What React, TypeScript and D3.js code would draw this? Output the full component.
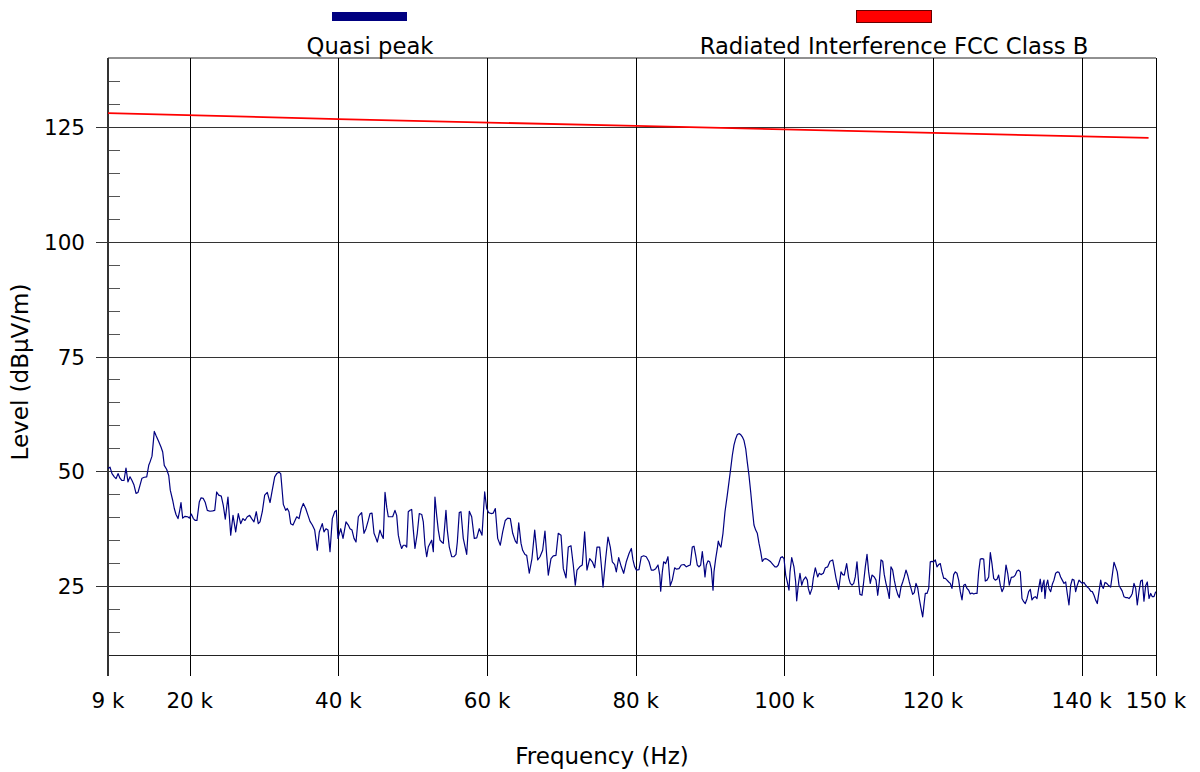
import React from "react";
import * as d3 from "d3";

// Quasi-peak measurement (frequency in kHz, level in dBµV/m)
const qpFreq: number[] = [
  9.0, 9.27, 9.54, 9.85, 10.08, 10.35, 10.61, 10.88, 11.15, 11.42, 11.69, 11.96, 12.23, 12.5, 12.77, 13.04, 13.31, 13.57, 13.88, 14.21,
  14.48, 14.65, 14.92, 15.23, 15.46, 15.82, 16.13, 16.36, 16.57, 16.9, 17.17, 17.38, 17.7, 17.92, 18.15, 18.42, 18.65, 18.82, 19.05, 19.36,
  19.72, 19.94, 20.21, 20.48, 20.75, 20.97, 21.28, 21.51, 21.82, 22.09, 22.36, 22.72, 23.09, 23.36, 23.62, 23.89, 24.24, 24.51, 24.78,
  25.14, 25.51, 25.82, 26.18, 26.53, 26.85, 27.16, 27.43, 27.74, 28.06, 28.33, 28.64, 28.95, 29.22, 29.45, 29.76, 30.08, 30.43, 30.8, 31.1,
  31.43, 31.7, 32.01, 32.24, 32.45, 32.59, 32.91, 33.12, 33.35, 33.58, 33.89, 34.16, 34.39, 34.7, 35.01, 35.28, 35.6, 35.91, 36.18, 36.49,
  36.81, 37.16, 37.43, 37.83, 38.06, 38.33, 38.6, 38.87, 39.18, 39.5, 39.72, 39.94, 40.31, 40.62,
  41.02, 41.33, 41.56, 41.83, 42.1, 42.37, 42.68, 42.9, 43.13, 43.44, 43.71, 44.02, 44.25, 44.52, 44.79, 45.06, 45.23, 45.59, 45.82, 46.04,
  46.27, 46.5, 46.71, 47.03, 47.3, 47.61, 47.84, 48.06, 48.29, 48.51, 48.73, 48.96, 49.19, 49.4, 49.63, 49.86, 50.08, 50.3, 50.61, 50.88,
  51.21, 51.42, 51.65, 51.88, 52.09, 52.32, 52.55, 52.77, 52.99, 53.22, 53.44, 53.67, 53.9, 54.11, 54.47, 54.65, 54.92, 55.24, 55.55, 55.82,
  56.0, 56.26,
  56.49, 56.8, 57.26, 57.61, 57.93, 58.28, 58.61, 58.95, 59.32, 59.68, 59.95, 60.22, 60.53, 60.84, 61.11, 61.43, 61.78, 62.1, 62.45, 62.78,
  63.13, 63.45, 63.8, 64.03, 64.26, 64.57, 64.79, 65.1, 65.33, 65.68, 66.04, 66.41, 66.81, 67.12, 67.48, 67.79, 68.02, 68.24, 68.6, 68.91,
  69.27, 69.58, 69.95, 70.26, 70.62, 70.93, 71.29, 71.6, 71.87,
  72.1, 72.46, 72.81, 73.13, 73.44, 73.81, 74.16, 74.48, 74.79, 75.15, 75.37, 75.6, 75.96, 76.27, 76.58, 76.85, 77.17, 77.39, 77.71, 78.06,
  78.38, 78.73, 79.1, 79.41, 79.63, 79.86, 80.08, 80.44, 80.75, 81.07, 81.42, 81.79, 82.1, 82.42, 82.69, 83.0, 83.23, 83.36, 83.58, 83.76,
  84.03, 84.34, 84.65, 84.92, 85.24, 85.46, 85.82, 86.13, 86.5, 86.81, 87.03, 87.34, 87.61,
  87.84, 88.07, 88.28, 88.51, 88.74, 88.96, 89.19, 89.32, 89.5, 89.72, 89.95, 90.17, 90.4, 90.53, 90.76, 90.98, 91.11, 91.3, 91.47, 91.74,
  92.01, 92.32, 92.55, 92.78, 93.0, 93.22, 93.45, 93.67, 93.89, 94.12, 94.34, 94.57, 94.8, 95.01, 95.24, 95.47, 95.68, 95.91, 96.14, 96.36,
  96.59, 96.81, 97.03, 97.26, 97.49, 97.84, 98.16, 98.47, 98.74, 98.97, 99.18, 99.5, 99.72, 99.95, 100.18, 100.39, 100.62, 100.76, 100.99, 101.29,
  101.52, 101.66, 101.87, 102.1, 102.33, 102.55, 102.87, 103.09, 103.22,
  103.45, 103.72, 103.89, 104.16, 104.48, 104.7, 104.93, 105.24, 105.51, 105.83, 106.14, 106.5, 106.72, 106.95, 107.31, 107.62, 107.85, 108.06, 108.38, 108.65,
  108.87, 109.1, 109.33, 109.54, 109.77, 110.0, 110.17, 110.44, 110.62, 110.89, 111.12, 111.34, 111.56, 111.79, 112.1, 112.33, 112.56, 112.77, 113.0, 113.23,
  113.44, 113.67, 113.9, 114.12, 114.34, 114.57, 114.79, 115.02, 115.25, 115.46, 115.69, 115.92, 116.13, 116.36, 116.59, 116.81, 117.04, 117.26, 117.48, 117.71,
  117.94, 118.15, 118.38, 118.61, 118.83, 118.96,
  119.19, 119.42, 119.63, 119.86, 120.09, 120.31, 120.53, 120.76, 120.98, 121.21, 121.44, 121.65, 121.88, 122.11, 122.32, 122.55, 122.78, 123.0, 123.22, 123.45,
  123.67, 123.9, 124.13, 124.34, 124.57, 124.8, 125.01, 125.24, 125.47, 125.69, 125.92, 126.14, 126.36, 126.59, 126.82, 127.03, 127.26, 127.49, 127.71, 127.93,
  128.16, 128.38, 128.61, 128.83, 129.05, 129.28, 129.51, 129.82, 130.05, 130.26, 130.53, 130.85, 131.07, 131.3, 131.53, 131.74, 131.97, 132.2, 132.41, 132.64,
  132.87, 133.09, 133.31, 133.54, 133.76, 133.99, 134.21, 134.43,
  134.62, 134.79, 134.93, 135.06, 135.24, 135.43, 135.6, 135.83, 136.05, 136.27, 136.5, 136.72, 136.95, 137.17, 137.39, 137.62, 137.85, 138.06, 138.29, 138.52,
  138.74, 138.97, 139.19, 139.41, 139.64, 139.87, 140.08, 140.31, 140.54, 140.76, 140.98, 141.21, 141.43, 141.66, 141.89, 142.1, 142.33, 142.56, 142.69, 142.91,
  143.14, 143.37, 143.58, 143.9, 144.12, 144.35, 144.57, 144.79, 145.02, 145.25, 145.46, 145.69, 145.92, 146.14, 146.37, 146.59, 146.81, 147.04, 147.27, 147.48,
  147.71, 147.94, 148.16, 148.38, 148.61, 148.83, 149.06, 149.29, 149.5, 149.73, 149.96,
];

const qpLevel: number[] = [
  50.6, 50.9, 49.5, 48.8, 48.4, 49.5, 48.5, 48.0, 48.0, 50.7, 47.7, 48.8, 48.0, 47.0, 45.2, 45.4, 47.0, 48.5, 48.7, 48.8,
  51.3, 52.0, 53.3, 58.7, 57.8, 56.5, 55.3, 54.2, 51.3, 50.4, 49.1, 45.9, 43.7, 41.9, 40.6, 39.7, 41.5, 43.2, 39.8, 40.2,
  40.1, 39.8, 40.7, 39.7, 39.3, 39.3, 43.3, 44.2, 44.1, 43.2, 41.5, 41.3, 41.4, 41.5, 45.5, 44.8, 44.6, 42.6, 39.6,
  44.4, 36.1, 40.4, 36.8, 40.8, 38.6, 39.7, 39.3, 40.1, 40.4, 39.7, 39.0, 41.2, 38.6, 39.0, 41.2, 44.8, 45.4, 43.2, 45.9,
  48.8, 49.5, 49.8, 49.5, 45.5, 42.8, 41.5, 41.9, 41.2, 38.6, 38.3, 39.3, 40.1, 39.7, 41.9, 43.0, 41.9, 40.4, 39.1, 38.3,
  37.2, 32.8, 36.8, 38.6, 36.8, 37.5, 37.2, 32.5, 39.7, 41.2, 41.5, 35.4, 37.5, 35.4,
  39.0, 38.3, 37.5, 37.2, 35.4, 34.6, 40.1, 40.6, 41.0, 36.5, 37.5, 39.3, 40.8, 40.9, 36.5, 35.4, 34.6, 37.2, 36.1, 35.4,
  45.4, 42.2, 40.1, 40.1, 40.1, 41.5, 40.4, 36.1, 34.3, 33.2, 33.9, 33.9, 33.5, 41.2, 41.5, 41.7, 37.2, 33.2, 36.5, 40.8,
  40.6, 39.0, 33.9, 31.4, 33.5, 34.3, 35.0, 32.5, 44.4, 40.4, 37.2, 35.0, 34.6, 34.3, 41.5, 37.2, 33.5, 31.4, 31.4, 31.9,
  34.6, 41.0,
  41.2, 35.4, 31.9, 41.3, 40.1, 35.4, 35.5, 37.5, 36.1, 45.5, 41.9, 41.0, 40.8, 40.9, 41.9, 35.4, 33.9, 36.8, 39.3, 39.8,
  39.7, 36.5, 34.8, 34.3, 38.8, 34.3, 32.8, 31.9, 31.7, 27.8, 31.0, 37.2, 30.7, 31.4, 32.8, 37.0, 31.7, 27.4, 31.0, 31.6,
  31.7, 36.5, 36.1, 28.8, 26.8, 33.5, 33.8, 29.6, 25.2,
  28.5, 29.2, 29.6, 36.8, 28.5, 31.0, 30.3, 29.0, 33.5, 33.5, 29.6, 24.8, 31.0, 35.7, 33.5, 30.3, 29.7, 28.1, 31.2, 29.2,
  27.8, 30.3, 32.1, 33.2, 30.7, 29.2, 28.5, 28.6, 31.4, 31.6, 31.4, 30.3, 28.5, 28.5, 28.8, 29.6, 27.4, 23.9, 28.1, 30.3,
  29.9, 31.4, 25.1, 26.3, 29.0, 28.7, 28.8, 29.6, 29.7, 29.2, 29.4, 29.6, 33.5,
  33.7, 31.7, 29.6, 29.2, 29.6, 32.5, 29.2, 27.0, 29.6, 30.5, 30.3, 28.8, 24.1, 28.1, 31.0, 33.2, 34.8, 33.9, 33.5, 36.5,
  41.2, 44.8, 47.7, 50.6, 53.5, 55.7, 57.1, 58.0, 58.2, 58.0, 57.5, 56.7, 54.9, 52.0, 49.1, 45.5, 41.9, 38.3, 37.2, 36.5,
  34.3, 32.5, 30.4, 30.9, 31.0, 30.7, 30.3, 29.7, 29.2, 29.2, 29.6, 31.2, 31.4, 31.0, 27.4, 25.9, 24.1, 28.1, 31.2, 29.2,
  25.9, 21.8, 25.2, 27.8, 25.2, 26.3, 27.0, 26.3, 24.5,
  23.2, 24.5, 26.7, 29.0, 27.0, 27.8, 27.5, 27.8, 29.0, 29.2, 30.4, 30.7, 28.8, 26.7, 24.3, 28.1, 27.5, 27.4, 29.9, 26.8,
  25.6, 25.2, 25.6, 27.0, 30.3, 25.6, 23.2, 23.0, 25.2, 29.2, 31.9, 28.1, 25.6, 27.4, 27.0, 26.3, 23.0, 25.9, 30.7, 30.4,
  27.5, 25.6, 24.1, 22.3, 29.2, 28.5, 26.3, 24.5, 23.2, 22.5, 24.8, 25.9, 27.0, 28.5, 27.4, 25.9, 24.5, 23.2, 23.6, 25.6,
  24.6, 22.3, 20.2, 18.3, 21.6, 23.4,
  23.4, 24.5, 30.3, 30.4, 30.3, 30.7, 29.2, 29.7, 29.9, 28.1, 26.7, 26.7, 26.3, 25.9, 25.6, 24.5, 27.5, 28.1, 27.8, 26.3,
  23.8, 22.0, 25.2, 25.4, 24.5, 24.1, 23.3, 23.5, 23.3, 23.4, 23.4, 28.1, 30.9, 31.0, 30.9, 26.1, 26.3, 27.0, 32.3, 29.9,
  26.7, 26.3, 26.5, 27.4, 25.2, 23.8, 24.6, 29.6, 27.8, 25.2, 26.9, 27.0, 27.4, 28.3, 28.5, 28.1, 22.3, 21.6, 21.2, 22.2,
  23.8, 24.3, 22.0, 22.5, 22.7, 22.3, 24.5, 26.5,
  23.8, 25.6, 26.3, 22.3, 25.2, 26.3, 24.5, 23.8, 25.4, 26.3, 27.8, 28.1, 28.0, 27.0, 26.3, 25.6, 25.9, 23.4, 20.9, 25.2,
  26.5, 26.3, 23.8, 25.2, 26.3, 25.9, 25.6, 25.8, 25.2, 24.8, 24.5, 23.9, 23.8, 23.0, 21.9, 21.2, 23.8, 26.3, 25.2, 24.5,
  25.8, 25.6, 25.2, 24.8, 27.4, 30.2, 29.2, 28.1, 25.2, 24.5, 23.9, 22.7, 22.5, 22.5, 22.3, 22.7, 23.4, 25.6, 24.5, 20.9,
  23.8, 26.1, 26.3, 21.7, 25.1, 25.9, 22.3, 23.4, 22.7, 22.7, 23.8,
];

// Limit line: Radiated Interference FCC Class B
const limitFreq: number[] = [9, 40, 80, 120, 149];
const limitLevel: number[] = [128.0, 126.7, 125.2, 123.7, 122.6];

const xMajorTicks: number[] = [9, 20, 40, 60, 80, 100, 120, 140, 150];
const xTickLabels: string[] = ["9 k", "20 k", "40 k", "60 k", "80 k", "100 k", "120 k", "140 k", "150 k"];
const yMajorTicks: number[] = [25, 50, 75, 100, 125];
const yMinorTicks: number[] = [15, 20, 30, 35, 40, 45, 55, 60, 65, 70, 80, 85, 90, 95, 105, 110, 115, 120, 130, 135];

const seriesNames: string[] = ["Quasi peak", "Radiated Interference FCC Class B"];
const seriesColors: string[] = ["#000080", "#ff0000"];

const FONT = "'DejaVu Sans', Verdana, sans-serif";

export default function App() {
  const left = 108, right = 1156, top = 58, bottom = 655;
  const x = d3.scaleLinear().domain([9, 150]).range([left, right]);
  const y = d3.scaleLinear().domain([10, 140]).range([bottom, top]);

  const qpData = qpFreq.map((f, i) => [f, qpLevel[i]] as [number, number]);
  const limData = limitFreq.map((f, i) => [f, limitLevel[i]] as [number, number]);
  const line = d3.line<[number, number]>().x((d) => x(d[0])).y((d) => y(d[1]));

  return (
    <svg width={1200} height={772} style={{ position: "absolute", left: 0, top: 0, background: "#fff" }} fontFamily={FONT}>
      <rect x={0} y={0} width={1200} height={772} fill="#fff" />
      {/* top border */}
      <line x1={left} x2={right} y1={top} y2={top} stroke="#222" strokeWidth={1} />
      {/* horizontal grid */}
      {yMajorTicks.map((t) => (
        <line key={"hg" + t} x1={left - 12} x2={right} y1={Math.round(y(t)) + 0.5} y2={Math.round(y(t)) + 0.5} stroke="#333" strokeWidth={1} />
      ))}
      {/* minor y ticks */}
      {yMinorTicks.map((t) => (
        <line key={"ym" + t} x1={left} x2={left + 12} y1={Math.round(y(t)) + 0.5} y2={Math.round(y(t)) + 0.5} stroke="#555" strokeWidth={1} />
      ))}
      {/* vertical grid + ticks */}
      {xMajorTicks.map((t) => (
        <line key={"vg" + t} x1={Math.round(x(t)) + 0.5} x2={Math.round(x(t)) + 0.5} y1={top} y2={bottom + 21} stroke="#000" strokeWidth={1} />
      ))}
      {/* bottom axis */}
      <line x1={left} x2={right} y1={bottom + 0.5} y2={bottom + 0.5} stroke="#222" strokeWidth={1} />
      {/* left axis */}
      <line x1={left} x2={left} y1={top} y2={bottom + 21} stroke="#333" strokeWidth={2} />

      {/* limit line */}
      <path d={line(limData) || ""} fill="none" stroke={seriesColors[1]} strokeWidth={1.8} />
      {/* quasi peak */}
      <path d={line(qpData) || ""} fill="none" stroke={seriesColors[0]} strokeWidth={1.2} strokeLinejoin="round" />

      {/* y tick labels */}
      {yMajorTicks.map((t) => (
        <text key={"yl" + t} x={85} y={y(t) + 8} textAnchor="end" fontSize={21.5} fill="#000">{t}</text>
      ))}
      {/* x tick labels */}
      {xMajorTicks.map((t, i) => (
        <text key={"xl" + t} x={x(t)} y={708} textAnchor="middle" fontSize={21.5} fill="#000">{xTickLabels[i]}</text>
      ))}

      {/* axis titles */}
      <text x={602} y={764} textAnchor="middle" fontSize={23} fill="#000">Frequency (Hz)</text>
      <text transform="translate(28,372) rotate(-90)" textAnchor="middle" fontSize={23} fill="#000">Level (dBµV/m)</text>

      {/* legend */}
      <rect x={332} y={12} width={75} height={9} fill={seriesColors[0]} />
      <text x={370} y={54} textAnchor="middle" fontSize={22.7} fill="#000">{seriesNames[0]}</text>
      <rect x={856.5} y={10.5} width={75} height={12} fill={seriesColors[1]} stroke="#600" strokeWidth={1} />
      <text x={894} y={54} textAnchor="middle" fontSize={22.7} fill="#000">{seriesNames[1]}</text>
    </svg>
  );
}
